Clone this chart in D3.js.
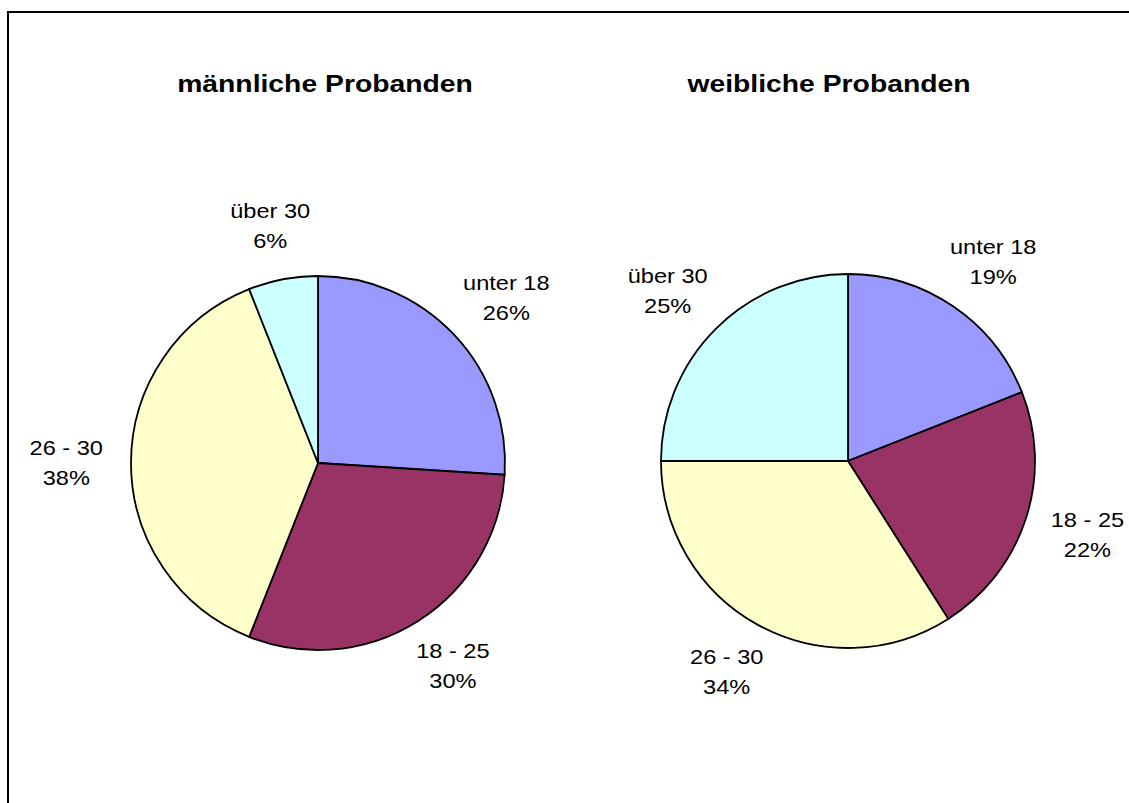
<!DOCTYPE html>
<html>
<head>
<meta charset="utf-8">
<script src="https://cdn.jsdelivr.net/npm/d3@7"></script>
<style>
  body { margin: 0; background: #fff; }
  text { font-family: "Liberation Sans", Arial, sans-serif; }
</style>
</head>
<body>
<div id="my_dataviz"></div>
<script>
// data
var categories = ["unter 18", "18 - 25", "26 - 30", "über 30"]
var maleValues = [26, 30, 38, 6]
var femaleValues = [19, 22, 34, 25]
var chartTitles = ["männliche Probanden", "weibliche Probanden"]

var width = 1129,
    height = 803,
    radius = 187,
    labelPad = 28,
    stretch = 1.18   // the original text is a bit wider than Arial

var color = d3.scaleOrdinal()
  .domain(categories)
  .range(["#9999FF", "#993366", "#FFFFCC", "#CCFFFF"])

var svg = d3.select("#my_dataviz")
  .append("svg")
    .attr("width", width)
    .attr("height", height)

// outer frame (runs off the right and bottom edges)
svg.append("rect")
  .attr("x", 8).attr("y", 12)
  .attr("width", width + 20).attr("height", height + 20)
  .attr("fill", "white")
  .attr("stroke", "black")
  .attr("stroke-width", 2)

var pie = d3.pie()
  .sort(null)
  .value(function(d) { return d.value })

var arc = d3.arc().innerRadius(0).outerRadius(radius)

function drawPie(values, title, cx, cy, titleX) {
  var data = categories.map(function(c, i) { return { key: c, value: values[i] } })
  var g = svg.append("g").attr("transform", "translate(" + cx + "," + cy + ")")

  g.selectAll("path")
    .data(pie(data))
    .enter()
    .append("path")
    .attr("d", arc)
    .attr("fill", function(d) { return color(d.data.key) })
    .attr("stroke", "black")
    .style("stroke-width", "1.8px")

  // labels: name + percent, pushed outside the slice at its mid angle
  var total = d3.sum(values)
  g.selectAll(".lbl")
    .data(pie(data))
    .enter()
    .append("text")
    .attr("class", "lbl")
    .attr("text-anchor", "middle")
    .style("font-size", "20px")
    .each(function(d) {
      var t = d3.select(this)
      t.append("tspan").attr("x", 0).attr("dy", "-0.1em").text(d.data.key)
      t.append("tspan").attr("x", 0).attr("dy", "1.5em").text(Math.round(d.value / total * 100) + "%")
      var bb = this.getBBox()
      var hw = bb.width * stretch / 2, hh = bb.height / 2
      var a = (d.startAngle + d.endAngle) / 2
      var s = Math.sin(a), c = -Math.cos(a)
      var px = (radius + labelPad + hw) * s
      var py = (radius + labelPad + hh) * c
      var boxCy = bb.y + hh
      t.attr("transform", "translate(" + px + "," + (py - boxCy) + ") scale(" + stretch + ",1)")
    })

  svg.append("text")
    .attr("text-anchor", "middle")
    .attr("transform", "translate(" + titleX + ",92) scale(" + stretch + ",1)")
    .style("font-size", "24px")
    .style("font-weight", "bold")
    .text(title)
}

drawPie(maleValues, chartTitles[0], 318, 463, 325)
drawPie(femaleValues, chartTitles[1], 848, 461, 829)
</script>
</body>
</html>
